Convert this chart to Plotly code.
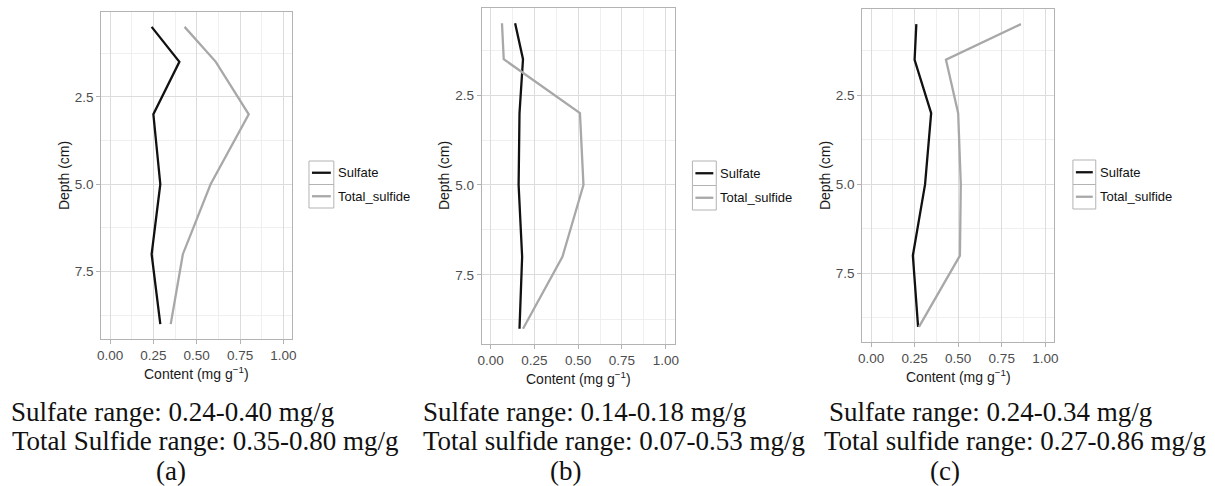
import plotly.graph_objects as go

# ---- data ----
depth = [0.5, 1.5, 3.0, 5.0, 7.0, 9.0]
a_sulfate = [0.24, 0.40, 0.25, 0.29, 0.24, 0.29]
a_total = [0.43, 0.61, 0.80, 0.58, 0.42, 0.35]
b_sulfate = [0.14, 0.185, 0.165, 0.16, 0.18, 0.165]
b_total = [0.065, 0.075, 0.51, 0.53, 0.41, 0.185]
c_sulfate = [0.26, 0.25, 0.345, 0.31, 0.24, 0.27]
c_total = [0.86, 0.43, 0.50, 0.515, 0.51, 0.275]
series_names = ["Sulfate", "Total_sulfide"]
x_ticks = [0.0, 0.25, 0.5, 0.75, 1.0]
x_minor = [0.125, 0.375, 0.625, 0.875]
y_ticks = [2.5, 5.0, 7.5]
y_minor = [1.25, 3.75, 6.25, 8.75]
captions = [
    ("Sulfate range: 0.24-0.40 mg/g", "Total Sulfide range: 0.35-0.80 mg/g", "(a)"),
    ("Sulfate range: 0.14-0.18 mg/g", "Total sulfide range: 0.07-0.53 mg/g", "(b)"),
    ("Sulfate range: 0.24-0.34 mg/g", "Total sulfide range: 0.27-0.86 mg/g", "(c)"),
]

W, H = 1215, 486
def X(px):
    return px / W
def Y(py):
    return 1 - py / H

# panel pixel boxes: (left, right, top, bottom)
boxes = [(98, 290, 12, 339), (481, 675, 8, 344), (864, 1057, 9, 342)]
legend_pos = [  # key box left, right, top, bottom, text x
    (307, 332, 161, 208, 334),
    (693, 717, 161, 210, 719),
    (1076, 1099, 160, 209, 1101),
]
cap_x = [(5, 6, 168), (420, 420, 565), (828, 823, 947)]

colors = ["#111111", "#a8a8a8"]
data_sets = [(a_sulfate, a_total), (b_sulfate, b_total), (c_sulfate, c_total)]

fig = go.Figure()
shapes = []
annotations = []
layout = {}
for i, ((sul, tot), box) in enumerate(zip(data_sets, boxes)):
    n = "" if i == 0 else str(i + 1)
    l, r, t, b = box
    for vals, name, col in zip((sul, tot), series_names, colors):
        fig.add_trace(go.Scatter(x=vals, y=depth, mode="lines", name=name,
                                 line=dict(color=col, width=2.3),
                                 xaxis="x" + n, yaxis="y" + n, showlegend=False))
    layout["xaxis" + n] = dict(
        domain=[X(l), X(r)], anchor="y" + n, range=[-0.05, 1.05],
        tickvals=x_ticks, tickformat=".2f",
        showgrid=True, gridcolor="#dcdcdc", gridwidth=1,
        minor=dict(tickvals=x_minor, showgrid=True, gridcolor="#efefef", gridwidth=1, ticks=""),
        showline=True, mirror=True, linecolor="#b3b3b3", linewidth=1,
        ticks="outside", ticklen=4, tickcolor="#b3b3b3",
        tickfont=dict(family="Liberation Sans", size=13.5, color="#4d4d4d"),
        zeroline=False, fixedrange=True)
    layout["yaxis" + n] = dict(
        domain=[Y(b), Y(t)], anchor="x" + n, range=[9.425, 0.075],
        tickvals=y_ticks, tickformat=".1f",
        showgrid=True, gridcolor="#dcdcdc", gridwidth=1,
        minor=dict(tickvals=y_minor, showgrid=True, gridcolor="#efefef", gridwidth=1, ticks=""),
        showline=True, mirror=True, linecolor="#b3b3b3", linewidth=1,
        ticks="outside", ticklen=4, tickcolor="#b3b3b3",
        tickfont=dict(family="Liberation Sans", size=13.5, color="#4d4d4d"),
        zeroline=False, fixedrange=True)
    # axis titles
    annotations.append(dict(text="Content (mg g<sup>\u22121</sup>)", xref="paper", yref="paper",
                            x=X((l + r) / 2), y=Y(b + 34), xanchor="center", yanchor="middle",
                            showarrow=False, font=dict(family="Liberation Sans", size=14, color="#1a1a1a")))
    annotations.append(dict(text="Depth (cm)", xref="paper", yref="paper", textangle=-90,
                            x=X(l - 38), y=Y((t + b) / 2), xanchor="center", yanchor="middle",
                            showarrow=False, font=dict(family="Liberation Sans", size=14, color="#1a1a1a")))
    # legend
    kl, kr, kt, kb, tx = legend_pos[i]
    km = (kt + kb) / 2
    for j, (name, col) in enumerate(zip(series_names, colors)):
        rt = kt if j == 0 else km
        rb = km if j == 0 else kb
        shapes.append(dict(type="rect", xref="paper", yref="paper",
                           x0=X(kl), x1=X(kr), y0=Y(rb), y1=Y(rt),
                           line=dict(color="#b3b3b3", width=1), fillcolor="white"))
        cy = (rt + rb) / 2
        shapes.append(dict(type="line", xref="paper", yref="paper",
                           x0=X(kl + 3), x1=X(kr - 3), y0=Y(cy), y1=Y(cy),
                           line=dict(color=col, width=2.3)))
        annotations.append(dict(text=name, xref="paper", yref="paper", x=X(tx), y=Y(cy),
                                xanchor="left", yanchor="middle", showarrow=False,
                                font=dict(family="Liberation Sans", size=13, color="#111111")))
    # captions
    c1, c2, c3 = captions[i]
    x1, x2, x3 = cap_x[i]
    for txt, cx, cyy, anc in ((c1, x1, 412, "left"), (c2, x2, 441, "left"), (c3, x3, 471, "center")):
        annotations.append(dict(text=txt, xref="paper", yref="paper", x=X(cx), y=Y(cyy),
                                xanchor=anc, yanchor="middle", showarrow=False,
                                font=dict(family="Liberation Serif", size=27, color="#111111")))

fig.update_layout(width=W, height=H, margin=dict(l=0, r=0, t=0, b=0),
                  paper_bgcolor="white", plot_bgcolor="white",
                  shapes=shapes, annotations=annotations, showlegend=False, **layout)
fig.write_html("out.html", config={"displayModeBar": False})
